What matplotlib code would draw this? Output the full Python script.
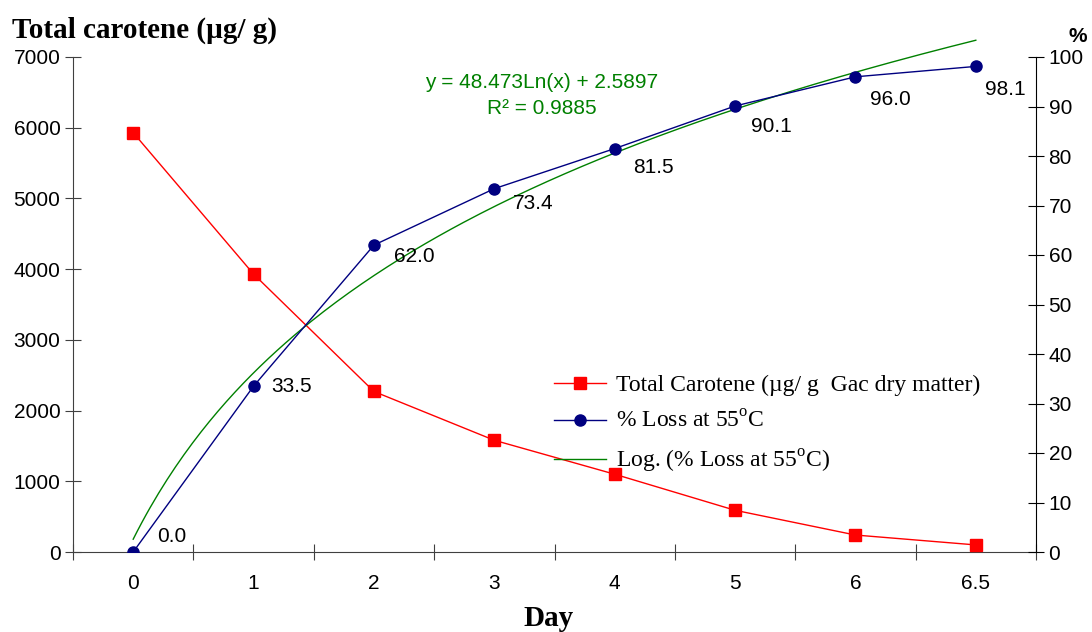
import numpy as np
import matplotlib
matplotlib.use('Agg')
import matplotlib.pyplot as plt
from matplotlib.ticker import FixedLocator, NullFormatter

# ---- data ----
days = ['0', '1', '2', '3', '4', '5', '6', '6.5']
carotene = [5930, 3930, 2270, 1580, 1100, 590, 240, 100]
loss = [0.0, 33.5, 62.0, 73.4, 81.5, 90.1, 96.0, 98.1]
# Excel log trendline coefficients (y = a*ln(x) + b, x = 1..n)
trend_a = 48.473
trend_b = 2.5897

# label offsets in pixels (dx, dy)
label_offsets = [(39, 16), (38, 0), (40, -11), (39, -15), (39, -19), (36, -20), (35, -23), (30, -23)]

SANS = 'Liberation Sans'
SERIF = 'Liberation Serif'
plt.rcParams['mathtext.fontset'] = 'custom'
plt.rcParams['mathtext.rm'] = SERIF

fig = plt.figure(figsize=(10.92, 6.32), dpi=100)
ax = fig.add_axes([73 / 1092, 1 - 552 / 632, (1036 - 73) / 1092, (552 - 57) / 632])
ax2 = ax.twinx()

idx = np.arange(len(days))

# red carotene line on left axis
l1, = ax.plot(idx, carotene, color='#FF0000', lw=1, marker='s', ms=8,
              markeredgecolor='#FF0000', label='Total Carotene (µg/ g  Gac dry matter)', zorder=3)

# % loss + trendline on right axis
xs = np.linspace(0, len(days) - 1, 200)
trend = trend_a * np.log(xs + 1) + trend_b
l3, = ax2.plot(xs, trend, color='#008000', lw=1, label=r'Log. (% Loss at 55$^{\mathrm{o}}$C)',
               zorder=2, clip_on=False)
l2, = ax2.plot(idx, loss, color='#000080', lw=1, marker='o', ms=8,
               label=r'% Loss at 55$^{\mathrm{o}}$C', zorder=3)

for i, v in enumerate(loss):
    dx, dy = label_offsets[i]
    ax2.annotate(f'{v:.1f}', (i, v), xytext=(dx * 0.72, dy * 0.72), textcoords='offset points',
                 ha='center', va='center', fontsize=15, family=SANS)

ax.set_xlim(-0.5, len(days) - 0.5)
ax.set_ylim(0, 7000)
ax2.set_ylim(0, 100)
ax.set_yticks(np.arange(0, 7001, 1000))
ax2.set_yticks(np.arange(0, 101, 10))

# x: tick marks at category borders, labels at centres
ax.xaxis.set_major_locator(FixedLocator(np.arange(-0.5, len(days), 1.0)))
ax.xaxis.set_major_formatter(NullFormatter())
ax.xaxis.set_minor_locator(FixedLocator(idx))
ax.set_xticklabels(days, minor=True)
ax.tick_params(axis='x', which='minor', length=0, pad=16, labelsize=15)
ax.tick_params(axis='x', which='major', direction='inout', length=12, color='#404040')

ax.tick_params(axis='y', direction='inout', length=12, labelsize=15, pad=3, color='#404040')
ax2.tick_params(axis='y', direction='inout', length=12, labelsize=15, pad=3, color='black')

for a in (ax, ax2):
    a.spines['top'].set_visible(False)
    for lab in a.get_xticklabels(minor=True) + a.get_yticklabels():
        lab.set_family(SANS)
ax.spines['left'].set_color('#404040')
ax.spines['bottom'].set_color('#404040')
ax2.spines['left'].set_visible(False)
ax2.spines['bottom'].set_visible(False)
ax.spines['right'].set_visible(False)
ax2.spines['right'].set_color('black')

# titles
fig.text(12 / 1092, 1 - 30 / 632, 'Total carotene (µg/ g)', fontsize=21, fontweight='bold',
         family=SERIF, ha='left', va='center')
fig.text(548 / 1092, 1 - 618 / 632, 'Day', fontsize=21, fontweight='bold',
         family=SERIF, ha='center', va='center')
fig.text(1078 / 1092, 1 - 37 / 632, '%', fontsize=15, fontweight='bold',
         family=SANS, ha='center', va='center')

# trendline equation
ax2.text(0.487, 0.968, 'y = 48.473Ln(x) + 2.5897\nR² = 0.9885', transform=ax2.transAxes,
         color='#008000', fontsize=15, family=SANS, ha='center', va='top', linespacing=1.45)

leg = ax2.legend(handles=[l1, l2, l3], loc='upper left', bbox_to_anchor=(0.49, 0.377),
                 frameon=False, prop={'family': SERIF, 'size': 17}, handlelength=2.2,
                 labelspacing=0.62, handletextpad=0.4, borderaxespad=0)

plt.savefig('out.png', dpi=100)
